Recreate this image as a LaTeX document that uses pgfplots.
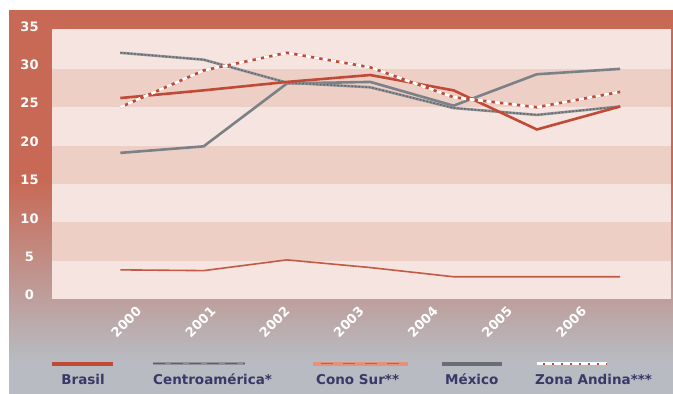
\documentclass[border=0pt]{standalone}
\usepackage{pgfplots}
\pgfplotsset{compat=1.18}
\usepackage{fontspec}
\setmainfont{DejaVu Sans}
\definecolor{rust}{HTML}{C86955}
\definecolor{graybg}{HTML}{B8BBC1}
\definecolor{bandlight}{HTML}{F5E4DF}
\definecolor{banddark}{HTML}{EDCFC6}
\definecolor{brasil}{HTML}{C04A36}
\definecolor{centro}{HTML}{8E9297}
\definecolor{centrodot}{HTML}{5E6166}
\definecolor{cono}{HTML}{C25A45}
\definecolor{conolight}{HTML}{E8907A}
\definecolor{mexico}{HTML}{7B8187}
\definecolor{legtext}{HTML}{3A3868}
\begin{document}
\begin{tikzpicture}[x=1pt,y=1pt]
\path[use as bounding box] (0,0) rectangle (673,394);
\fill[white] (0,0) rectangle (673,394);
\fill[rust] (9,214) rectangle (673,384);
\shade[top color=rust, bottom color=graybg] (9,34) rectangle (673,214);
\fill[graybg] (9,0) rectangle (673,34);
\begin{axis}[
  at={(52pt,95pt)}, anchor=south west,
  scale only axis, width=619pt, height=270pt,
  xmin=-0.82, xmax=6.61, ymin=0, ymax=35.2,
  axis line style={draw=none},
  axis background/.style={fill=bandlight},
  xtick={0.07,0.96,1.85,2.74,3.63,4.52,5.41},
  xticklabels={2000,2001,2002,2003,2004,2005,2006},
  ytick={0,5,...,35},
  major tick length=0pt,
  /pgf/number format/assume math mode=true,
  tick label style={font=\bfseries\fontsize{13}{13}\selectfont, text=white},
  yticklabel style={anchor=center, xshift=-22.5pt, yshift=4pt},
  xticklabel style={anchor=center, yshift=-23pt, rotate=45},
  clip=false,
]
\fill[banddark] (-0.82,5) rectangle (6.61,10);
\fill[banddark] (-0.82,15) rectangle (6.61,20);
\fill[banddark] (-0.82,25) rectangle (6.61,30);
% Cono Sur
\addplot[cono, line width=1.6pt] coordinates {(0,3.8) (1,3.7) (2,5.1) (3,4.1) (4,2.9) (5,2.9) (6,2.9)};
% Mexico
\addplot[mexico, line width=2.6pt] coordinates {(0,19.05) (1,19.9) (2,28.1) (3,28.3) (4,25.2) (5,29.3) (6,30.0)};
% Centroamerica
\addplot[centro, line width=2.6pt] coordinates {(0,32.1) (1,31.2) (2,28.2) (3,27.6) (4,24.9) (5,24.0) (6,25.1)};
\addplot[centrodot, line width=1.4pt, dash pattern=on 1.5pt off 2pt] coordinates {(0,32.1) (1,31.2) (2,28.2) (3,27.6) (4,24.9) (5,24.0) (6,25.1)};
% Brasil
\addplot[brasil, line width=2.6pt] coordinates {(0,26.2) (1,27.2) (2,28.3) (3,29.2) (4,27.2) (5,22.1) (6,25.1)};
% Zona Andina
\addplot[brasil, line width=2.6pt] coordinates {(0,25.0) (1,29.8) (2,32.1) (3,30.2) (4,26.3) (5,25.0) (6,27.0)};
\addplot[white, line width=2.8pt, dash pattern=on 5pt off 3.5pt] coordinates {(0,25.0) (1,29.8) (2,32.1) (3,30.2) (4,26.3) (5,25.0) (6,27.0)};
\end{axis}
% legend
\begin{scope}[font=\bfseries\fontsize{13.5}{13.5}\selectfont, text=legtext]
\draw[brasil, line width=3.5pt] (52,30) -- (113,30);
\node[anchor=base] at (83,9) {Brasil};
\draw[centro, line width=3pt] (153,30) -- (245,30);
\draw[centrodot, line width=1.2pt, dash pattern=on 12pt off 6pt] (153,30.5) -- (245,30.5);
\node[anchor=base west, inner sep=0pt] at (153,9) {Centroamérica*};
\draw[conolight, line width=3.5pt] (313,30) -- (408,30);
\draw[cono, line width=1.2pt, dash pattern=on 12pt off 10pt, dash phase=-8pt] (313,30.5) -- (408,30.5);
\node[anchor=base west, inner sep=0pt] at (316,9) {Cono Sur**};
\draw[mexico!85!black, line width=3.5pt] (442,30) -- (502,30);
\node[anchor=base west, inner sep=0pt] at (445,9) {México};
\draw[white, line width=3pt] (537,30) -- (607,30);
\draw[brasil, line width=2pt, dash pattern=on 2pt off 7pt, dash phase=-6pt] (537,30) -- (607,30);
\node[anchor=base west, inner sep=0pt] at (535,9) {Zona Andina***};
\end{scope}
\end{tikzpicture}
\end{document}
